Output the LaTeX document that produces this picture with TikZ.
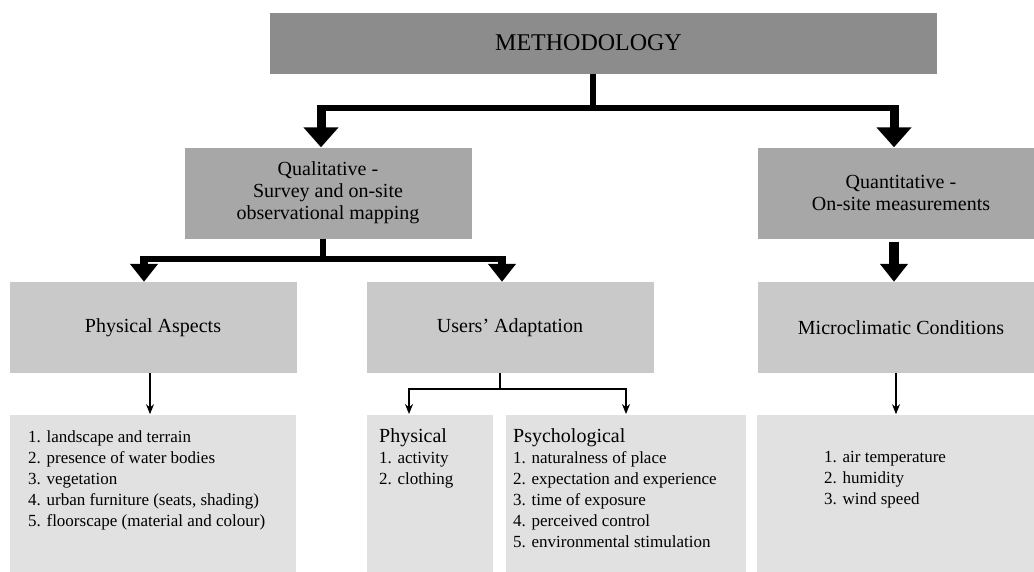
\documentclass[tikz,border=0pt]{standalone}
\usepackage{fontspec}
\setmainfont{Liberation Serif}
\usetikzlibrary{arrows.meta,positioning}
\definecolor{MethDark}{HTML}{8C8C8C}
\definecolor{MethMid}{HTML}{A7A7A7}
\definecolor{MethLight}{HTML}{C9C9C9}
\definecolor{MethPale}{HTML}{E1E1E1}

\begin{document}
\begin{tikzpicture}[x=1pt,y=-1pt,
    lvlone/.style={fill=MethDark,minimum width=667pt,minimum height=61pt,inner sep=0pt,font=\fontsize{24}{28}\selectfont},
    lvltwo/.style={fill=MethMid,minimum width=287pt,minimum height=91pt,inner sep=0pt,align=center,font=\fontsize{20}{22}\selectfont},
    lvlthree/.style={fill=MethLight,minimum width=287pt,minimum height=91pt,inner sep=0pt,font=\fontsize{20}{24}\selectfont},
    itembox/.style={fill=MethPale,minimum height=170pt,inner sep=0pt},
    itemtext/.style={anchor=north west,inner sep=0pt,align=left,font=\fontsize{17}{21}\selectfont},
    bigline/.style={line width=6pt},
    toparr/.style={-{Triangle[length=20pt,width=34pt]},line width=9pt,shorten <=-3pt},
    midarr/.style={-{Triangle[length=18pt,width=27pt]},line width=8pt,shorten <=-3pt},
    thinline/.style={line width=1.3pt},
    smallarr/.style={-{Stealth[length=10pt,width=8pt]},line width=1.3pt,shorten >=1pt}
  ]
    \useasboundingbox (0,0) rectangle (1034,571);
    % boxes, top to bottom
    \node[lvlone] (meth) at (603.5,43) {\hspace*{-30pt}METHODOLOGY};
    \node[lvltwo] (qual) at (328,193) {Qualitative -\\Survey and on-site\\observational mapping};
    \node[lvltwo] (quant) at (901,193) {Quantitative -\\On-site measurements};
    \node[lvlthree] (phys) at (153,327.5) {Physical Aspects};
    \node[lvlthree] (users) at (510,327.5) {Users’ Adaptation};
    \node[lvlthree] (micro) at (901,327.5) {Microclimatic Conditions};
    \node[itembox,minimum width=286pt,below=42pt of phys] (physbox) {};
    \node[itembox,minimum width=288pt,below=42pt of micro] (microbox) {};
    \node[itembox,minimum width=126pt,anchor=north] (actbox) at (430,415) {};
    \node[itembox,minimum width=240pt,anchor=north] (psychbox) at (626,415) {};
    % lists
    \node[itemtext] (physitems) at (28,430) {1. landscape and terrain\\2. presence of water bodies\\3. vegetation\\4. urban furniture (seats, shading)\\5. floorscape (material and colour)};
    \node[itemtext] (actitems) at (379,428) {{\fontsize{20}{21}\selectfont Physical}\\1. activity\\2. clothing};
    \node[itemtext] (psychitems) at (513,428) {{\fontsize{20}{21}\selectfont Psychological}\\1. naturalness of place\\2. expectation and experience\\3. time of exposure\\4. perceived control\\5. environmental stimulation};
    \node[itemtext] (microitems) at (824,451) {1. air temperature\\2. humidity\\3. wind speed};
    % thick connectors
    \coordinate (methsplit) at (593,108);
    \draw[bigline] (meth.south -| methsplit) -- (methsplit);
    \draw[bigline] ([xshift=-11.5pt]qual.north |- methsplit) -- ([xshift=-2.5pt]quant.north |- methsplit);
    \draw[toparr] ([xshift=-7pt]qual.north |- methsplit) -- ([xshift=-7pt]qual.north);
    \draw[toparr] ([xshift=-7pt]quant.north |- methsplit) -- ([xshift=-7pt]quant.north);
    \coordinate (qualsplit) at (323,258.5);
    \draw[bigline] (qual.south -| qualsplit) -- (qualsplit);
    \draw[bigline] ([xshift=-13pt]phys.north |- qualsplit) -- ([xshift=-4pt]users.north |- qualsplit);
    \draw[midarr] ([xshift=-9pt]phys.north |- qualsplit) -- ([xshift=-9pt]phys.north);
    \draw[midarr] ([xshift=-8pt]users.north |- qualsplit) -- ([xshift=-8pt]users.north);
    \draw[midarr,line width=9.5pt,shorten <=3pt] ([xshift=-7pt]quant.south) -- ([xshift=-7pt]micro.north);
    % thin connectors
    \draw[smallarr] ([xshift=-3pt]phys.south) -- ([xshift=-3pt]physbox.north);
    \coordinate (usersplit) at (500,389);
    \draw[thinline] (users.south -| usersplit) -- (usersplit);
    \draw[smallarr] (usersplit) -| ([xshift=-21pt]actbox.north);
    \draw[smallarr] (usersplit) -| (psychbox.north);
    \draw[smallarr] ([xshift=-5pt]micro.south) -- ([xshift=-5pt]microbox.north);
  \end{tikzpicture}
\end{document}
